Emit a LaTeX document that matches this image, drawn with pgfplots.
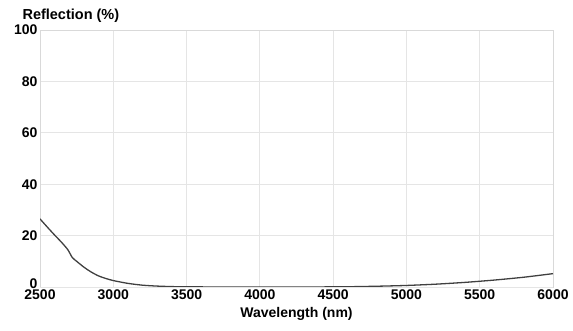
\documentclass[border=0pt]{standalone}
\usepackage{fontspec}
\setmainfont{Liberation Sans}
\usepackage{pgfplots}
\pgfplotsset{compat=1.18}
\begin{document}
\begin{tikzpicture}[x=1pt,y=1pt]
\path[use as bounding box] (0,0) rectangle (573,331);
\begin{axis}[
  at={(40pt,44pt)}, anchor=south west,
  scale only axis, width=513pt, height=257pt,
  xmin=2500, xmax=6000, ymin=0, ymax=100,
  xtick={2500,3000,...,6000}, ytick={20,40,...,100},
  extra y ticks={0},
  extra y tick style={yticklabel style={yshift=3.5pt}},
  grid=major, major grid style={draw=black!10, line width=0.8pt},
  axis line style={draw=black!15, line width=0.8pt},
  tick style={draw=none},
  ticklabel style={font=\fontsize{14}{16}\selectfont\bfseries},
  /pgf/number format/assume math mode=true,
  /pgf/number format/1000 sep={},
  xticklabel style={yshift=1pt},
  yticklabel style={xshift=1pt},
  xlabel={Wavelength (nm)},
  xlabel style={font=\fontsize{14}{16}\selectfont\bfseries, yshift=-1pt},
  ylabel={Reflection (\%)},
  ylabel style={font=\fontsize{14.5}{16}\selectfont\bfseries, rotate=-90, at={(rel axis cs:0,1)}, anchor=south west, xshift=-21pt, yshift=4pt},
]
\addplot[black!75, line width=1.3pt, smooth, tension=0.4] coordinates {
(2500,26.5) (2550,23.3) (2600,20.2) (2650,17.2) (2690,14.5) (2720,11.5) (2750,10.0)
(2800,7.7) (2850,5.8) (2900,4.3) (2950,3.3) (3000,2.5) (3100,1.4) (3200,0.7)
(3300,0.35) (3400,0.15) (3500,0.07) (3700,0.02) (4000,0.0) (4300,0.0) (4600,0.1)
(4800,0.3) (5000,0.6) (5200,1.1) (5400,1.8) (5600,2.7) (5800,3.8) (6000,5.2)
};
\end{axis}
\end{tikzpicture}
\end{document}
